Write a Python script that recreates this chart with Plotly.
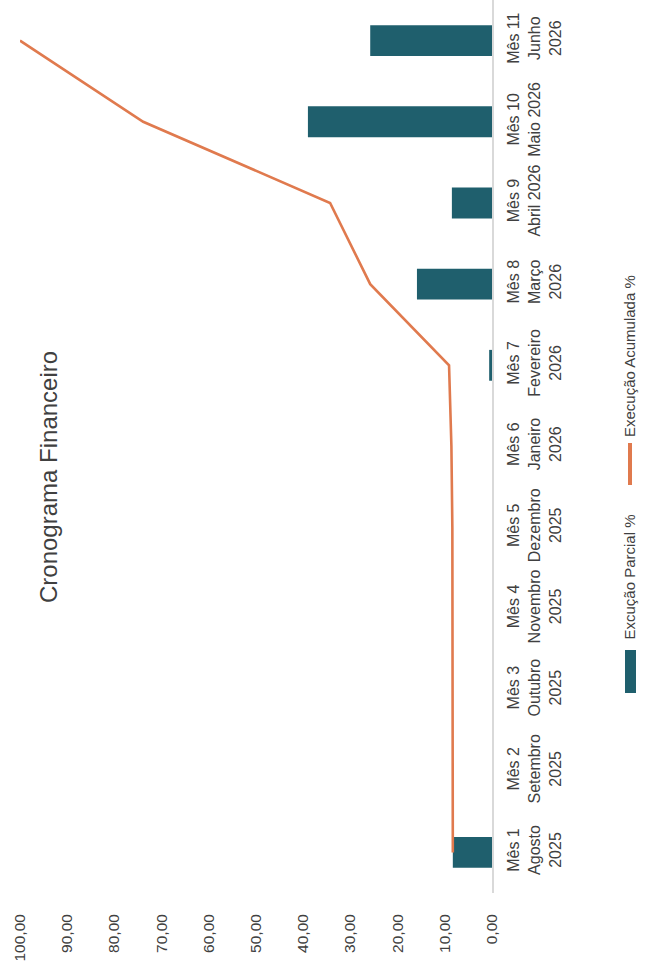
import plotly.graph_objects as go

# ---- data ----
categories = [
    "Mês 1<br>Agosto<br>2025",
    "Mês 2<br>Setembro<br>2025",
    "Mês 3<br>Outubro<br>2025",
    "Mês 4<br>Novembro<br>2025",
    "Mês 5<br>Dezembro<br>2025",
    "Mês 6<br>Janeiro<br>2026",
    "Mês 7<br>Fevereiro<br>2026",
    "Mês 8<br>Março<br>2026",
    "Mês 9<br>Abril 2026<br> ",
    "Mês 10<br>Maio 2026<br> ",
    "Mês 11<br>Junho<br>2026",
]
parcial = [8.3, 0, 0, 0, 0, 0, 0.6, 15.9, 8.5, 39.0, 25.8]
acumulada = [8.3, 8.3, 8.3, 8.3, 8.4, 8.6, 9.1, 25.8, 34.3, 73.9, 100.0]
value_ticks = [0, 10, 20, 30, 40, 50, 60, 70, 80, 90, 100]
value_tick_labels = ["0,00", "10,00", "20,00", "30,00", "40,00", "50,00",
                     "60,00", "70,00", "80,00", "90,00", "100,00"]
title_text = "Cronograma Financeiro"
legend_bar = "Excução Parcial %"
legend_line = "Execução Acumulada %"

W, H = 654, 973
ML, MR, MT, MB = 20, 162, 0, 80
PW, PH = W - ML - MR, H - MT - MB

def px(xp):
    return (xp - ML) / PW

def py(yp):
    return (MT + PH - yp) / PH

BAR = "#1f5f6d"
LINE = "#e07a4e"
TXT = "#404040"
FONT = "Liberation Sans, Arial, sans-serif"

fig = go.Figure()
fig.add_trace(go.Bar(
    y=categories, x=parcial, orientation="h",
    marker=dict(color=BAR, line=dict(width=0)),
    width=0.38, name=legend_bar, showlegend=False,
))
fig.add_trace(go.Scatter(
    y=categories, x=acumulada, mode="lines",
    line=dict(color=LINE, width=2.6), name=legend_line,
    showlegend=False, cliponaxis=False,
))

fig.update_layout(
    width=W, height=H,
    margin=dict(l=ML, r=MR, t=MT, b=MB, pad=0),
    paper_bgcolor="white", plot_bgcolor="white",
    font=dict(family=FONT, color=TXT, size=15),
    showlegend=False,
    xaxis=dict(
        range=[100, 0], tickvals=value_ticks, ticktext=value_tick_labels,
        tickangle=-90, showgrid=False, zeroline=False, showline=False,
        ticks="", ticklabelstandoff=17,
        tickfont=dict(size=15.5, color=TXT, family=FONT),
    ),
    yaxis=dict(
        type="category", categoryorder="array", categoryarray=categories,
        range=[-0.5, len(categories) - 0.5],
        side="right", tickangle=-90, showgrid=False, zeroline=False,
        showline=True, linecolor="#d9d9d9", linewidth=1.5, ticks="",
        ticklabelstandoff=6,
        tickfont=dict(size=16, color=TXT, family=FONT),
    ),
)

# title (rotated)
fig.add_annotation(
    text=title_text, xref="paper", yref="paper",
    x=px(48), y=py(477), textangle=-90, showarrow=False,
    xanchor="center", yanchor="middle",
    font=dict(size=24, color=TXT, family=FONT),
)

# legend (rotated, drawn manually)
fig.add_shape(type="rect", xref="paper", yref="paper",
              x0=px(625), x1=px(636), y0=py(693), y1=py(650),
              fillcolor=BAR, line=dict(width=0))
fig.add_annotation(
    text=legend_bar, xref="paper", yref="paper",
    x=px(629), y=py(642), textangle=-90, showarrow=False,
    xanchor="center", yanchor="bottom",
    font=dict(size=15, color=TXT, family=FONT),
)
fig.add_shape(type="line", xref="paper", yref="paper",
              x0=px(630), x1=px(630), y0=py(485), y1=py(443),
              line=dict(color=LINE, width=4))
fig.add_annotation(
    text=legend_line, xref="paper", yref="paper",
    x=px(629), y=py(439), textangle=-90, showarrow=False,
    xanchor="center", yanchor="bottom",
    font=dict(size=15, color=TXT, family=FONT),
)

fig.write_html("out.html")
